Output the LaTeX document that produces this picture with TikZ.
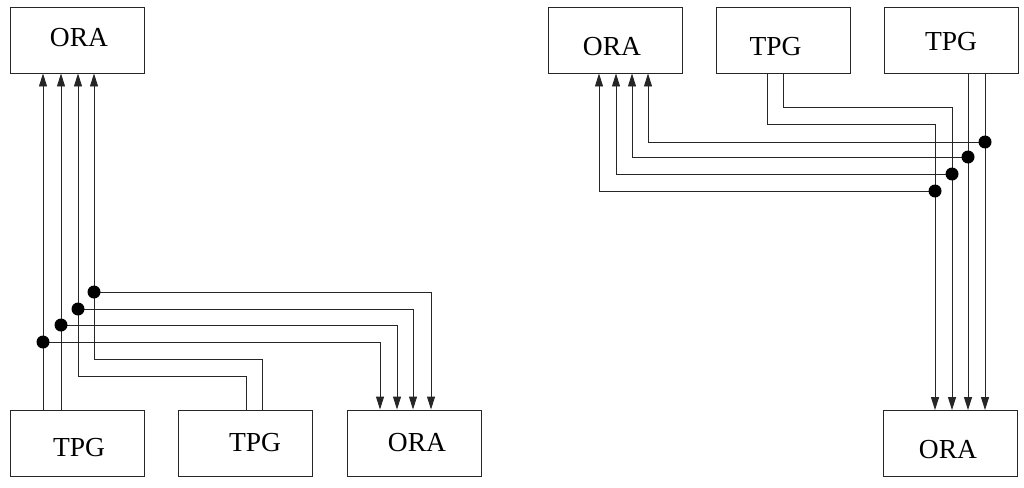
\documentclass[tikz,border=0pt]{standalone}
\usepackage{fontspec}
\setmainfont{Liberation Serif}
\usetikzlibrary{arrows.meta}
\begin{document}
\begin{tikzpicture}[x=1pt,y=-1pt,
  box/.style={draw=black!85,line width=0.9pt,minimum width=134pt,minimum height=66pt,inner sep=0pt},
  lbl/.style={inner sep=0pt,font=\fontsize{27.5}{32}\selectfont},
  wire/.style={draw=black!85,line width=0.9pt},
  arr/.style={wire,-{Triangle[length=13pt,width=8pt]}},
  dot/.style={circle,fill=black,inner sep=0pt,minimum size=13pt}]
\useasboundingbox (0,0) rectangle (1024,487);
% ---------- left diagram ----------
\node[box] (ora1) at (77.5,40) {};
\node[lbl] (ora1t) at (79,38) {ORA};
\node[box] (tpg1) at (77.5,443) {};
\node[lbl] (tpg1t) at (79,448) {TPG};
\node[box] (tpg2) at (245.5,443) {};
\node[lbl] (tpg2t) at (255,443) {TPG};
\node[box] (ora2) at (414,443) {};
\node[lbl] (ora2t) at (417,443) {ORA};
% columns / bends
\coordinate (a1) at (43,342);
\coordinate (a2) at (61,325);
\coordinate (a3) at (78,309);
\coordinate (a4) at (94,292);
\coordinate (b3) at (246,376);
\coordinate (b4) at (262,359);
\coordinate (c1) at (380,342);
\coordinate (c2) at (397,325);
\coordinate (c3) at (413,309);
\coordinate (c4) at (431,292);
% wires TPG1 -> ORA1
\draw[arr] (tpg1.north -| a1) -- (ora1.south -| a1);
\draw[arr] (tpg1.north -| a2) -- (ora1.south -| a2);
% wires TPG2 -> ORA1
\draw[arr] (tpg2.north -| b3) -- (b3) -| (ora1.south -| a3);
\draw[arr] (tpg2.north -| b4) -- (b4) -| (ora1.south -| a4);
% branches to ORA2
\draw[arr] (a1) -- (c1) -- (ora2.north -| c1);
\draw[arr] (a2) -- (c2) -- (ora2.north -| c2);
\draw[arr] (a3) -- (c3) -- (ora2.north -| c3);
\draw[arr] (a4) -- (c4) -- (ora2.north -| c4);
\node[dot] (da1) at (a1) {};
\node[dot] (da2) at (a2) {};
\node[dot] (da3) at (a3) {};
\node[dot] (da4) at (a4) {};
% ---------- right diagram ----------
\node[box] (ora3) at (615,40) {};
\node[lbl] (ora3t) at (612,47) {ORA};
\node[box] (tpg3) at (783,40) {};
\node[lbl] (tpg3t) at (775.5,47) {TPG};
\node[box] (tpg4) at (951.5,40) {};
\node[lbl] (tpg4t) at (951,42) {TPG};
\node[box] (ora4) at (950.5,443.5) {};
\node[lbl] (ora4t) at (948,450) {ORA};
\coordinate (e1) at (935,191);
\coordinate (e2) at (952,174);
\coordinate (e3) at (968,157);
\coordinate (e4) at (985,142);
\coordinate (f1) at (767,124);
\coordinate (f2) at (783,107);
\coordinate (g1) at (599,191);
\coordinate (g2) at (616,174);
\coordinate (g3) at (632,157);
\coordinate (g4) at (648,142);
% wires TPG3 -> ORA4
\draw[arr] (tpg3.south -| f1) -- (f1) -| (ora4.north -| e1);
\draw[arr] (tpg3.south -| f2) -- (f2) -| (ora4.north -| e2);
% wires TPG4 -> ORA4
\draw[arr] (tpg4.south -| e3) -- (ora4.north -| e3);
\draw[arr] (tpg4.south -| e4) -- (ora4.north -| e4);
% branches to ORA3
\draw[arr] (e1) -- (g1) -- (ora3.south -| g1);
\draw[arr] (e2) -- (g2) -- (ora3.south -| g2);
\draw[arr] (e3) -- (g3) -- (ora3.south -| g3);
\draw[arr] (e4) -- (g4) -- (ora3.south -| g4);
\node[dot] (de1) at (e1) {};
\node[dot] (de2) at (e2) {};
\node[dot] (de3) at (e3) {};
\node[dot] (de4) at (e4) {};
\end{tikzpicture}
\end{document}
